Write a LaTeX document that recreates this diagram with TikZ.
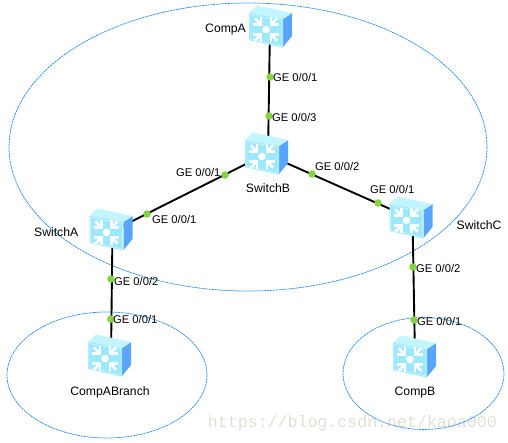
\documentclass[tikz,border=0pt]{standalone}
\usepackage{fontspec}
\setmainfont{Liberation Sans}
\definecolor{ringblue}{RGB}{50,145,240}
\definecolor{dotgreen}{RGB}{135,210,65}
\definecolor{frontc}{RGB}{155,232,255}
\definecolor{topc}{RGB}{195,245,255}
\definecolor{sidec}{RGB}{90,165,252}
\definecolor{edgec}{RGB}{200,245,255}
\definecolor{markc}{RGB}{224,224,214}
\tikzset{
  ringline/.style={draw=ringblue,line width=0.75pt,dash pattern=on 2.2pt off 0.7pt},
  linkline/.style={draw=black,line width=1.9pt},
  portdot/.style={circle,fill=dotgreen,inner sep=0pt,minimum size=7.5pt},
  lbl/.style={inner sep=0pt,anchor=west,font=\fontsize{11.2}{13}\selectfont,text=black},
  devname/.style={inner sep=0pt,font=\fontsize{12.2}{14}\selectfont,text=black},
  hubbox/.style={inner sep=0pt,minimum width=44pt,minimum height=43pt},
  pics/swbox/.style={code={
    \fill[sidec] (13,-8) -- (22,-14) -- (22,9) -- (13,20) -- cycle;
    \fill[topc] (-21,-14) -- (-13,-21.5) -- (22,-14) -- (13,-8) -- cycle;
    \fill[frontc] (-21,-14) -- (13,-8) -- (13,20.5) -- (-21,13) -- cycle;
    \draw[edgec,line width=.8pt] (-20,-12.5) -- (12,-6.5) -- (12,19) -- (-20,12) -- cycle;
    \fill[white] (-4,2.5) circle (3.8pt);
    \foreach \a in {45,135,225,315}{
      \begin{scope}[shift={(-4,2.5)},rotate=\a]
        \draw[white,line width=2.8pt] (7,0) -- (16,0);
        \draw[white,line width=2.3pt,miter limit=4] (12.5,-5.5) -- (7,0) -- (12.5,5.5);
      \end{scope}
    }
  }}
}
\begin{document}
\begin{tikzpicture}[x=1pt,y=-1pt]
\useasboundingbox (0,0) rectangle (508,442);
\fill[white] (0,0) rectangle (508,442);
\node[inner sep=0pt,anchor=east,font=\fontsize{16.6}{18}\selectfont,text=markc] (wm) at (497,423) {\fontspec{Liberation Mono}https://blog.csdn.net/kaoa000};
\draw[ringline] (248,147) ellipse [x radius=239,y radius=144];
\draw[ringline] (107,375) ellipse [x radius=100,y radius=63];
\draw[ringline] (423.5,373.5) ellipse [x radius=80.5,y radius=56];
\node[hubbox] (compa) at (270,27) {};
\node[hubbox] (switchb) at (266,154) {};
\node[hubbox] (switcha) at (110.5,230) {};
\node[hubbox] (switchc) at (410.5,218) {};
\node[hubbox] (compabranch) at (109,356) {};
\node[hubbox] (compb) at (414,357) {};
\draw[linkline] (compa.center) -- ([xshift=2pt]switchb.center);
\draw[linkline] (switchb.center) -- ([yshift=-2pt]switcha.center);
\draw[linkline] (switchb.center) -- (switchc.center);
\draw[linkline] ([xshift=2pt]switcha.center) -- ([xshift=2pt]compabranch.center);
\draw[linkline] ([xshift=2pt]switchc.center) -- ([xshift=1pt]compb.center);
\foreach \p in {(270,27),(266,154),(110.5,230),(410.5,218),(109,356),(414,357)}
  \pic at \p {swbox};
\node[portdot] (p1) at (270,77) {};
\node[portdot] (p2) at (269,116) {};
\node[portdot] (p3) at (225,175) {};
\node[portdot] (p4) at (147,214) {};
\node[portdot] (p5) at (312,174) {};
\node[portdot] (p6) at (378,203) {};
\node[portdot] (p7) at (111,279) {};
\node[portdot] (p8) at (110.7,319) {};
\node[portdot] (p9) at (413,267) {};
\node[portdot] (p10) at (414,320) {};
\node[lbl] (l1) at (273,77) {GE 0/0/1};
\node[lbl] (l2) at (272,117) {GE 0/0/3};
\node[lbl] (l3) at (176,172) {GE 0/0/1};
\node[lbl] (l4) at (152,219) {GE 0/0/1};
\node[lbl] (l5) at (315,166) {GE 0/0/2};
\node[lbl] (l6) at (370,189) {GE 0/0/1};
\node[lbl] (l7) at (114,281) {GE 0/0/2};
\node[lbl] (l8) at (113,319) {GE 0/0/1};
\node[lbl] (l9) at (416,268) {GE 0/0/2};
\node[lbl] (l10) at (417,321) {GE 0/0/1};
\node[devname,anchor=west] (n1) at (205,30) {CompA};
\node[devname] (n2) at (268,188) {SwitchB};
\node[devname,anchor=west] (n3) at (34,232) {SwitchA};
\node[devname,anchor=west] (n4) at (456.5,225) {SwitchC};
\node[devname] (n5) at (110,392) {CompABranch};
\node[devname] (n6) at (415,392) {CompB};
\end{tikzpicture}
\end{document}
